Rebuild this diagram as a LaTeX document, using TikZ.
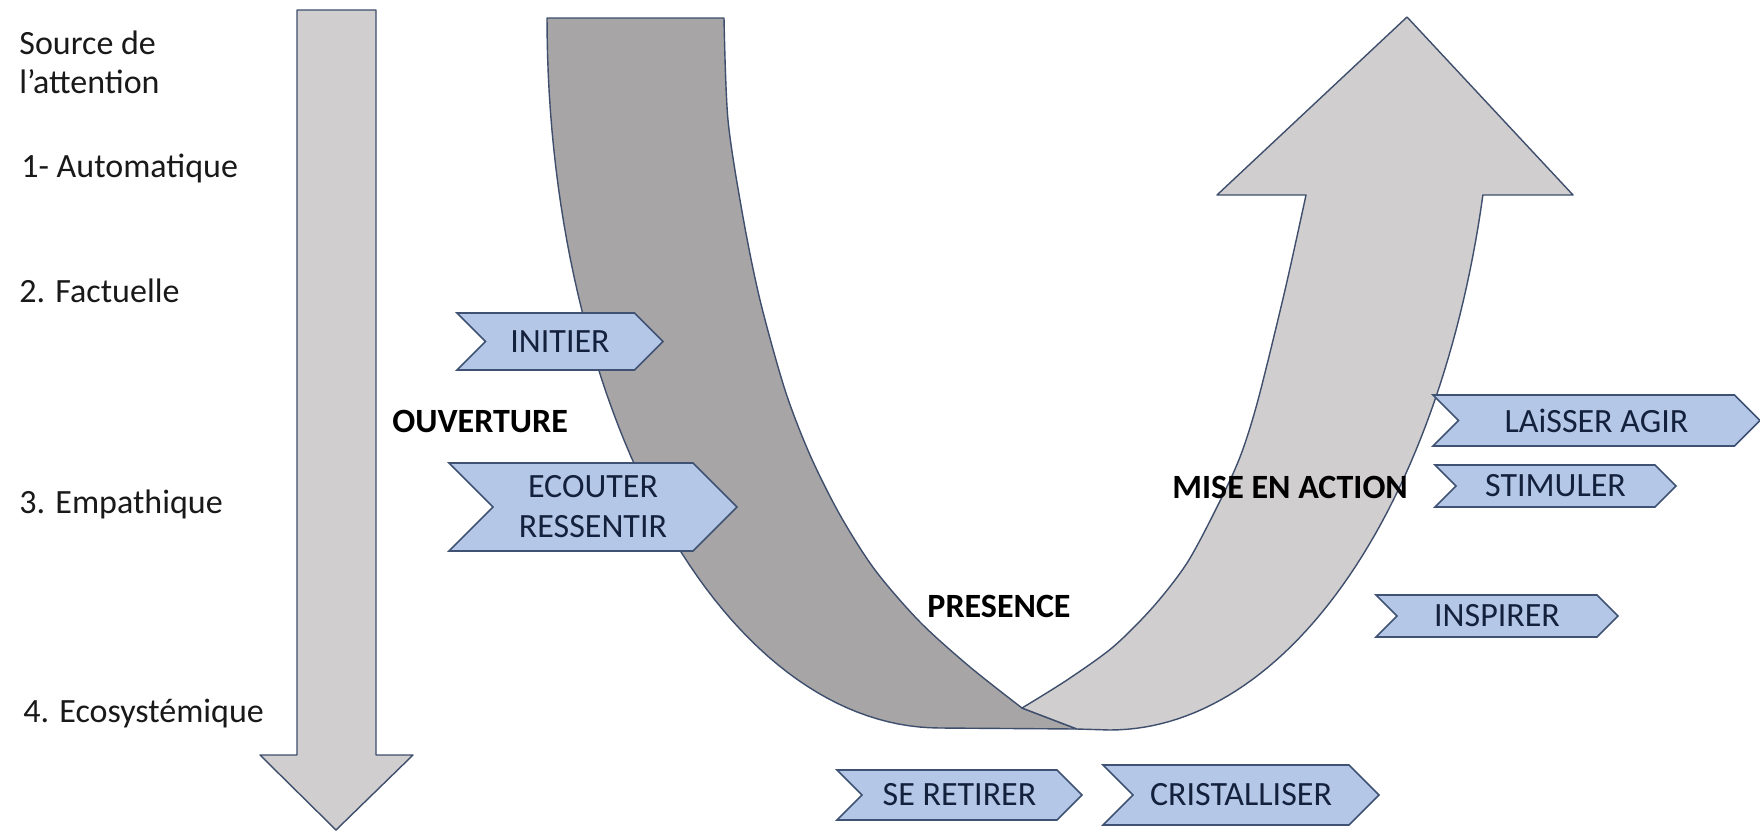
\documentclass[tikz,border=0pt]{standalone}
\usepackage{fontspec}
\setmainfont{Carlito}
\usetikzlibrary{shapes.symbols}
\definecolor{lgray}{HTML}{D0CECE}
\definecolor{dgray}{HTML}{A7A5A6}
\definecolor{edgecol}{HTML}{3E4E6C}
\definecolor{chevfill}{HTML}{B4C7E7}
\definecolor{chevedge}{HTML}{3F5273}
\definecolor{chevtext}{HTML}{14213D}
\tikzset{
  band/.style={draw=edgecol, line width=0.7pt, line join=round},
  chev/.style={shape=signal, signal to=east, signal from=west, signal pointer angle=90,
    draw=chevedge, fill=chevfill, line width=0.8pt, text=chevtext, inner sep=0pt,
    font=\fontsize{17}{20}\selectfont, align=center},
  lbl/.style={anchor=base west, inner sep=0pt, font=\fontsize{17}{20}\selectfont, text=black!90},
  blbl/.style={anchor=base west, inner sep=0pt, font=\fontsize{17}{20}\selectfont\bfseries, text=black},
}
\begin{document}
\begin{tikzpicture}[x=0.5pt,y=-0.5pt]
\fill[white] (0,0) rectangle (1760,831);
\useasboundingbox (0,0) rectangle (1760,831);

% left downward arrow
\draw[band, fill=lgray] (297,10) -- (376,10) -- (376,755) -- (413,755) -- (336,830) -- (260,755) -- (297,755) -- cycle;

% dark band (left half of the U)
\draw[band, fill=dgray] (547,18) -- (724,18) -- plot[smooth] coordinates {(724,18) (728,120) (743,217) (760,300) (785,390) (810,455) (840,515) (875,570) (920,622) (970,667) (1022,708)} -- (1077,729) -- (940,728) -- plot[domain=90:180, samples=60] ({940+393*cos(\x)},{18+710*sin(\x)}) -- cycle;

% light band with arrow head (right half of the U)
\draw[band, fill=lgray] (1022,708) -- plot[smooth] coordinates {(1022,708) (1067,680) (1113,647) (1153,607) (1187,563) (1217,507) (1240,457) (1258,400) (1285,290) (1306,195)} -- (1217,195) -- (1407,17) -- (1573,195) -- (1483,195) -- plot[domain=14.4:90, samples=60] ({1110+385*cos(\x)},{18+712*sin(\x)}) -- (1077,729) -- cycle;

% chevrons
\node[chev, minimum width=103pt, minimum height=28.5pt] (initier) at (560,341.5) {INITIER};
\node[chev, minimum width=144pt, minimum height=44pt] (ecouter) at (593,507) {ECOUTER\\RESSENTIR};
\node[chev, minimum width=163.5pt, minimum height=25.5pt] (laisser) at (1596.5,420.5) {LAiSSER AGIR};
\node[chev, minimum width=120.5pt, minimum height=21pt] (stimuler) at (1555.5,486) {STIMULER};
\node[chev, minimum width=121pt, minimum height=21pt] (inspirer) at (1497,616) {INSPIRER};
\node[chev, minimum width=122.5pt, minimum height=25pt] (retirer) at (959.5,795) {SE RETIRER};
\node[chev, minimum width=138pt, minimum height=30pt] (cristal) at (1241,795) {CRISTALLISER};

% left labels
\node[lbl] (src1) at (19,54) {Source de};
\node[lbl] (src2) at (19,93) {l’attention};
\node[lbl] (n1) at (21,177) {1- Automatique};
\node[lbl] (n2) at (19,302) {2. Factuelle};
\node[lbl] (n3) at (19,513) {3. Empathique};
\node[lbl] (n4) at (23,722) {4. Ecosystémique};

% bold labels
\node[blbl] (ouv) at (392,432) {OUVERTURE};
\node[blbl] (mise) at (1172,498) {MISE EN ACTION};
\node[blbl] (pres) at (927,617) {PRESENCE};
\end{tikzpicture}
\end{document}
